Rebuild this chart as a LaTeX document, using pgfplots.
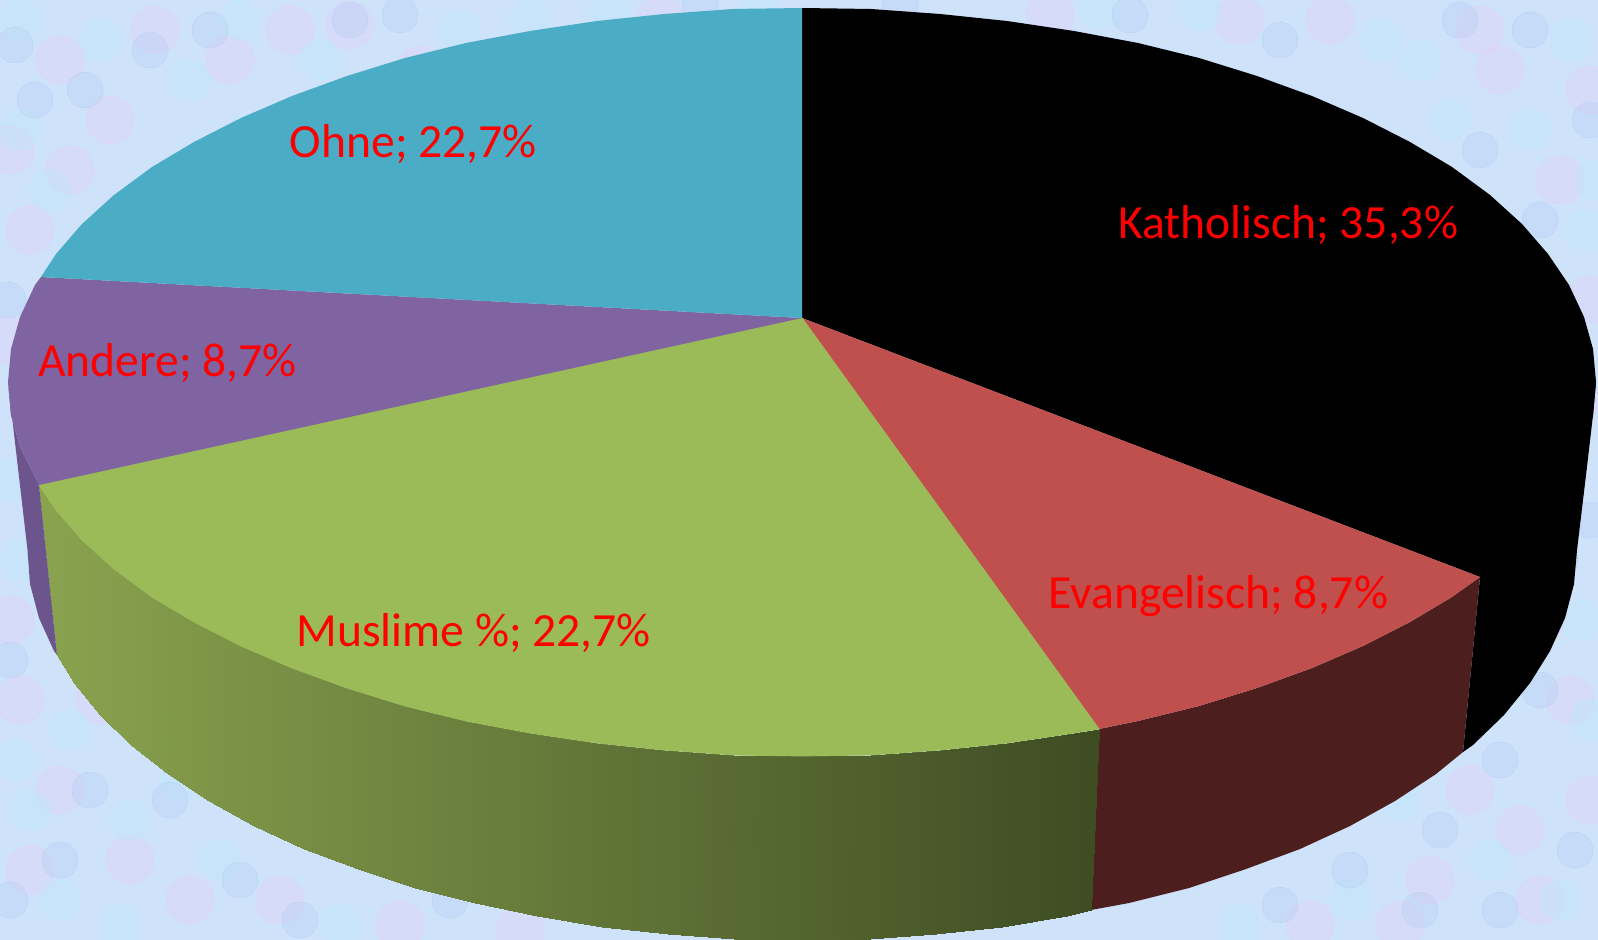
\documentclass[border=0pt]{standalone}
\usepackage{fontspec}
\setmainfont{Carlito}
\usepackage{pgfplots}
\pgfplotsset{compat=1.18}
\definecolor{bgbase}{RGB}{206,226,250}
\definecolor{pinkb}{RGB}{232,205,245}
\definecolor{cyanb}{RGB}{185,235,250}
\definecolor{blueb}{RGB}{180,205,245}
\definecolor{kath}{RGB}{0,0,0}
\definecolor{evang}{RGB}{192,80,77}
\definecolor{musl}{RGB}{155,187,89}
\definecolor{andr}{RGB}{128,100,162}
\definecolor{ohne}{RGB}{75,172,198}
\pgfplotsset{base/.style={scale only axis,width=799pt,height=470pt,xmin=0,xmax=1598,ymin=0,ymax=940,y dir=reverse,hide axis,clip=true}}
\begin{document}
\begin{tikzpicture}
\path[use as bounding box] (0,0) rectangle (799pt,470pt);
% background texture
\begin{axis}[base]
\addplot[fill=bgbase,draw=none] coordinates {(0,0)(1598,0)(1598,940)(0,940)} --cycle;
\addplot[only marks,mark=*,mark size=12pt,mark options={draw=pinkb,fill=pinkb,line width=0pt,opacity=.3}] coordinates {(60,60)(290,30)(420,70)(660,20)(1050,15)(1330,20)(1500,70)(1560,180)(30,230)(110,120)(1570,700)(1430,880)(1310,925)(1520,830)(60,790)(190,900)(20,700)(100,700)(1575,400)(400,925)(155,30)(230,60)(350,25)(10,150)(70,170)(5,340)(10,620)(1590,300)(1480,30)(1590,90)(1240,20)(1590,800)(1470,790)(1540,620)(1400,925)(1540,900)(130,860)(30,870)(280,900)(520,930)};
\addplot[only marks,mark=*,mark size=10pt,mark options={draw=cyanb,fill=cyanb,line width=0pt,opacity=.3}] coordinates {(20,20)(190,80)(240,20)(530,20)(760,8)(1200,10)(1420,60)(1570,40)(1540,280)(20,130)(50,190)(20,560)(30,810)(130,820)(220,860)(1580,620)(1560,900)(1400,800)(1240,925)(120,925)(100,40)(320,60)(460,30)(610,10)(1100,8)(1380,40)(1530,130)(1585,230)(1560,480)(1590,720)(1490,860)(1350,900)(70,730)(15,760)(180,780)(340,925)(1450,120)(1595,180)(8,480)(60,900)};
\addplot[only marks,mark=*,mark size=9pt,mark options={draw=blueb,fill=blueb,line width=0pt,opacity=.3}] coordinates {(85,90)(350,20)(580,50)(900,5)(1130,15)(1460,20)(1590,120)(1480,150)(8,300)(150,50)(1590,520)(1500,760)(1350,870)(1500,910)(60,860)(10,900)(170,800)(300,920)(35,100)(210,30)(400,15)(700,5)(1280,40)(1530,30)(1540,220)(1560,560)(1540,690)(1440,830)(1280,905)(90,790)(240,880)(10,660)(1575,850)(450,900)(1420,910)(15,45)};
\end{axis}
% pie
\begin{axis}[base]
% walls
\addplot[fill=black,draw=none] coordinates {(1480,577)(1596,382)(1593,415)(1586,475)(1577,550)(1574,584)(1565,618)(1550,651)(1530,683)(1504,715)(1473,745)(1463,752)} --cycle;
\addplot[fill={rgb,255:red,76;green,30;blue,30},draw=none] coordinates {(1480,577)(1452,597)(1410,622)(1363,646)(1312,668)(1257,688)(1199,706)(1138,721)(1099,729)(1091,910)(1129,903)(1189,888)(1246,869)(1300,849)(1350,826)(1395,801)(1436,774)(1463,752)} --cycle;
\addplot[patch,patch type=rectangle,shader=interp,point meta=x,point meta min=39,point meta max=1099,colormap={gw}{rgb255=(138,163,79) rgb255=(62,76,35)}] table[row sep=\\] {
x y\\
1099 729\\ 1074 733\\ 1067 916\\ 1091 910\\
1074 733\\ 1007 743\\ 1002 927\\ 1067 916\\
1007 743\\ 940 750\\ 936 934\\ 1002 927\\
940 750\\ 871 755\\ 870 939\\ 936 934\\
871 755\\ 802 756\\ 802 940\\ 870 939\\
802 756\\ 733 755\\ 734 939\\ 802 940\\
733 755\\ 664 750\\ 668 934\\ 734 939\\
664 750\\ 597 743\\ 602 927\\ 668 934\\
597 743\\ 530 733\\ 537 916\\ 602 927\\
530 733\\ 466 721\\ 475 903\\ 537 916\\
466 721\\ 405 706\\ 415 888\\ 475 903\\
405 706\\ 347 688\\ 358 869\\ 415 888\\
347 688\\ 292 668\\ 304 849\\ 358 869\\
292 668\\ 241 646\\ 254 826\\ 304 849\\
241 646\\ 194 622\\ 209 801\\ 254 826\\
194 622\\ 152 597\\ 168 774\\ 209 801\\
152 597\\ 114 569\\ 131 745\\ 168 774\\
114 569\\ 82 540\\ 100 715\\ 131 745\\
82 540\\ 56 510\\ 74 683\\ 100 715\\
56 510\\ 39 485\\ 57 655\\ 74 683\\
};
\addplot[fill={rgb,255:red,108;green,85;blue,140},draw=none] coordinates {(39,485)(20,447)(11,415)(8,382)(27.5,550)(30,584)(39,618)(54,651)(57,655)} --cycle;
% top faces
\addplot[fill=kath,draw=none] coordinates {(802,318)(802,8)(871,9)(940,14)(1007,21)(1074,31)(1138,43)(1199,58)(1257,76)(1312,96)(1363,118)(1410,142)(1452,167)(1490,195)(1522,224)(1548,254)(1569,285)(1584,317)(1593,349)(1596,382)(1593,415)(1584,447)(1569,479)(1548,510)(1522,540)(1490,569)(1480,577)} --cycle;
\addplot[fill=evang,draw=none] coordinates {(802,318)(1480,577)(1452,597)(1410,622)(1363,646)(1312,668)(1257,688)(1199,706)(1138,721)(1099,729)} --cycle;
\addplot[fill=musl,draw=musl,line width=0.4pt] coordinates {(802,318)(1099,729)(1074,733)(1007,743)(940,750)(871,755)(802,756)(733,755)(664,750)(597,743)(530,733)(466,721)(405,706)(347,688)(292,668)(241,646)(194,622)(152,597)(114,569)(82,540)(56,510)(39,485)} --cycle;
\addplot[fill=andr,draw=none] coordinates {(802,318)(39,485)(20,447)(11,415)(8,382)(11,349)(20,317)(35,285)(41,277)} --cycle;
\addplot[fill=ohne,draw=none] coordinates {(802,318)(41,277)(56,254)(82,224)(114,195)(152,167)(194,142)(241,118)(292,96)(347,76)(405,58)(466,43)(530,31)(597,21)(664,14)(733,9)(802,8)} --cycle;
% labels
\tikzset{lab/.style={anchor=base west,inner sep=0pt,text=red,font=\fontsize{23.8}{28}\selectfont}}
\node[lab] at (axis cs:1118,239) {Katholisch; 35,3\%};
\node[lab] at (axis cs:1048,608) {Evangelisch; 8,7\%};
\node[lab] at (axis cs:296,646) {Muslime \%; 22,7\%};
\node[lab] at (axis cs:38,377) {Andere; 8,7\%};
\node[lab] at (axis cs:289.5,158) {Ohne; 22,7\%};
\end{axis}
\end{tikzpicture}
\end{document}
